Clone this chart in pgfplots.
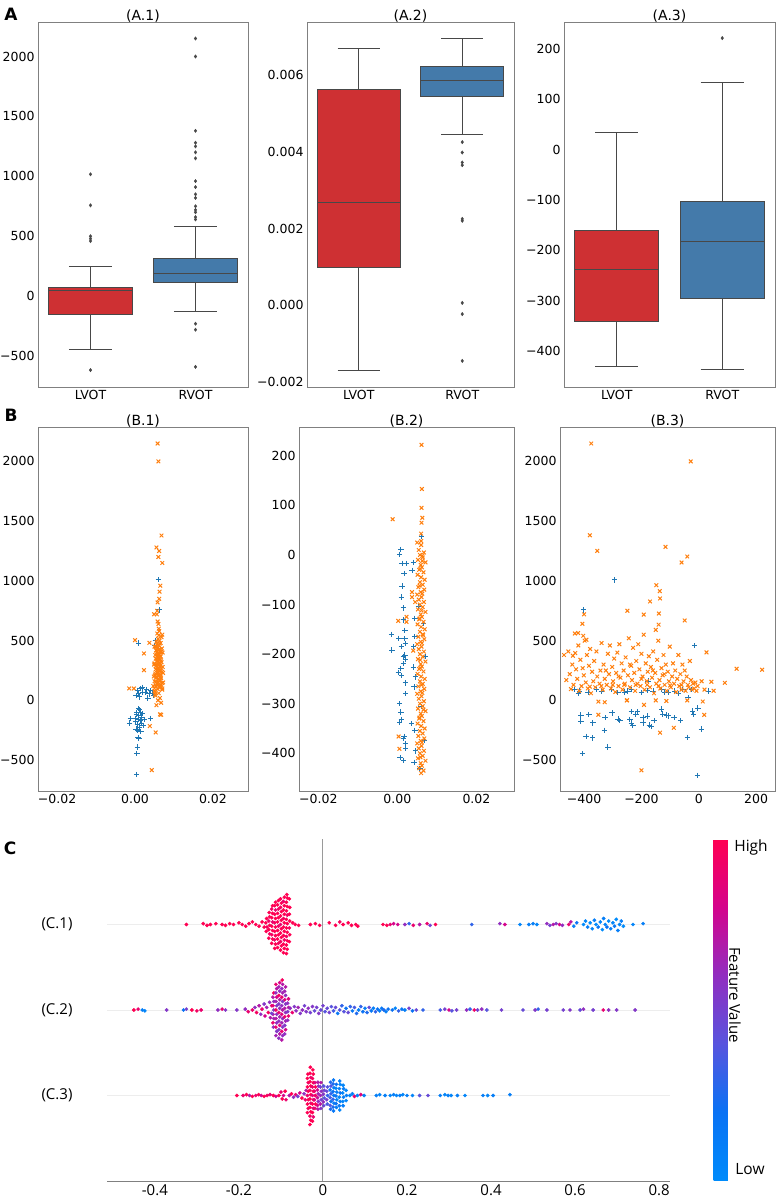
\documentclass[border=0pt]{standalone}
\usepackage{pgfplots}
\pgfplotsset{compat=1.18}
\usepackage{fontspec}
\setmainfont{DejaVu Sans}
\newfontfamily\shapfont{Open Sans}
\definecolor{boxred}{RGB}{206,48,51}
\definecolor{boxblue}{RGB}{68,122,170}
\definecolor{mplblue}{HTML}{1F77B4}
\definecolor{mplorange}{HTML}{FF7F0E}
\definecolor{spine}{RGB}{128,128,128}
\definecolor{boxedge}{RGB}{72,72,72}
\pgfplotsset{
  panel/.style={scale only axis, anchor=south west, scaled ticks=false,
    axis line style={spine, line width=0.9pt},
    major tick length=0pt, tick style={draw=none},
    ticklabel style={font=\fontsize{12.5}{15}\selectfont},
    title style={font=\fontsize{14}{16}\selectfont, at={(0.5,1)}, anchor=south, inner sep=0pt, yshift=-7pt},
    /pgf/number format/assume math mode=true},
  bx/.style={fill=#1, draw=boxedge, line width=1pt},
  wk/.style={boxedge, line width=1pt, unbounded coords=jump},
  ol/.style={only marks, mark=diamond*, mark size=1.7pt, mark options={fill=boxedge, draw=boxedge, line width=0.4pt}},
  bm/.style={only marks, mark=+, mark size=2.7pt, mplblue, line width=1pt},
  om/.style={only marks, mark=x, mark size=2.6pt, mplorange, line width=1pt},
  sw/.style={scatter, only marks, scatter src=explicit, mark=*, mark size=1.65pt,
    scatter/use mapped color={draw=mapped color, fill=mapped color}},
}
\begin{document}
\begin{tikzpicture}
\path[use as bounding box] (0pt,0pt) rectangle (777pt,1198pt);
% ---------------- A.1
\begin{axis}[panel, at={(38pt,811pt)}, width=210pt, height=365pt,
  xmin=-0.5, xmax=1.5, ymin=-758, ymax=2288,
  xtick={0,1}, xticklabels={LVOT,RVOT},
  ytick={-500,0,500,1000,1500,2000}, yticklabels={−500,0,500,1000,1500,2000},
  title={(A.1)}]
\addplot[bx=boxred] coordinates {(-0.4,-150) (0.4,-150) (0.4,75) (-0.4,75)} --cycle;
\addplot[wk] coordinates {(0,75) (0,250) (nan,nan) (-0.205,250) (0.205,250) (nan,nan) (0,-150) (0,-442) (nan,nan) (-0.205,-442) (0.205,-442) (nan,nan) (-0.4,50) (0.4,50)};
\addplot[ol] coordinates {(0,1017) (0,758) (0,500) (0,480) (0,460) (0,-617)};
\addplot[bx=boxblue] coordinates {(0.6,117) (1.4,117) (1.4,317) (0.6,317)} --cycle;
\addplot[wk] coordinates {(1,317) (1,583) (nan,nan) (0.795,583) (1.205,583) (nan,nan) (1,117) (1,-125) (nan,nan) (0.795,-125) (1.205,-125) (nan,nan) (0.6,192) (1.4,192)};
\addplot[ol] coordinates {(1,2150) (1,2000) (1,1380) (1,1280) (1,1250) (1,1200) (1,1150) (1,960) (1,910) (1,850) (1,820) (1,750) (1,720) (1,700) (1,660) (1,640) (1,-230) (1,-280) (1,-590)};
\end{axis}
% ---------------- A.2
\begin{axis}[panel, at={(307pt,811pt)}, width=207pt, height=365pt,
  xmin=-0.5, xmax=1.5, ymin=-0.00213, ymax=0.00738,
  xtick={0,1}, xticklabels={LVOT,RVOT},
  ytick={-0.002,0,0.002,0.004,0.006}, yticklabels={−0.002,0.000,0.002,0.004,0.006},
  title={(A.2)}]
\addplot[bx=boxred] coordinates {(-0.4,0.00099) (0.4,0.00099) (0.4,0.00561) (-0.4,0.00561)} --cycle;
\addplot[wk] coordinates {(0,0.00561) (0,0.00668) (nan,nan) (-0.205,0.00668) (0.205,0.00668) (nan,nan) (0,0.00099) (0,-0.00169) (nan,nan) (-0.205,-0.00169) (0.205,-0.00169) (nan,nan) (-0.4,0.00267) (0.4,0.00267)};
\addplot[bx=boxblue] coordinates {(0.6,0.00545) (1.4,0.00545) (1.4,0.00621) (0.6,0.00621)} --cycle;
\addplot[wk] coordinates {(1,0.00621) (1,0.00694) (nan,nan) (0.795,0.00694) (1.205,0.00694) (nan,nan) (1,0.00545) (1,0.00445) (nan,nan) (0.795,0.00445) (1.205,0.00445) (nan,nan) (0.6,0.00585) (1.4,0.00585)};
\addplot[ol] coordinates {(1,0.00425) (1,0.00398) (1,0.00372) (1,0.00365) (1,0.00225) (1,0.00220) (1,0.00006) (1,-0.00023) (1,-0.00145)};
\end{axis}
% ---------------- A.3
\begin{axis}[panel, at={(564pt,811pt)}, width=211pt, height=365pt,
  xmin=-0.5, xmax=1.5, ymin=-472, ymax=254,
  xtick={0,1}, xticklabels={LVOT,RVOT},
  ytick={-400,-300,-200,-100,0,100,200}, yticklabels={−400,−300,−200,−100,0,100,200},
  title={(A.3)}]
\addplot[bx=boxred] coordinates {(-0.4,-342) (0.4,-342) (0.4,-161) (-0.4,-161)} --cycle;
\addplot[wk] coordinates {(0,-161) (0,34) (nan,nan) (-0.205,34) (0.205,34) (nan,nan) (0,-342) (0,-432) (nan,nan) (-0.205,-432) (0.205,-432) (nan,nan) (-0.4,-238) (0.4,-238)};
\addplot[bx=boxblue] coordinates {(0.6,-296) (1.4,-296) (1.4,-104) (0.6,-104)} --cycle;
\addplot[wk] coordinates {(1,-104) (1,133) (nan,nan) (0.795,133) (1.205,133) (nan,nan) (1,-296) (1,-437) (nan,nan) (0.795,-437) (1.205,-437) (nan,nan) (0.6,-183) (1.4,-183)};
\addplot[ol] coordinates {(1,222)};
\end{axis}
% ---------------- B.1
\begin{axis}[panel, at={(38pt,407pt)}, width=210pt, height=364pt,
  xmin=-0.0249, xmax=0.029, ymin=-758, ymax=2288,
  xtick={-0.02,0,0.02}, xticklabels={−0.02,0.00,0.02},
  ytick={-500,0,500,1000,1500,2000}, yticklabels={−500,0,500,1000,1500,2000},
  title={(B.1)}]
\addplot[bm] coordinates {(0.0060,1010) (0.0062,758) (0.0009,480) (0.0052,500) (0.0050,460)
 (0.0006,85) (0.0009,60) (0.0003,40) (0.0015,100) (0.0020,70) (0.0026,65) (0.0030,90) (0.0036,55) (0.0040,80) (0.0044,60) (0.0012,30) (0.0033,20) (0.0018,110) (0.0048,45)
 (0.0000,-150) (0.0002,-180) (0.0004,-120) (0.0006,-200) (0.0008,-160) (0.0010,-130) (0.0011,-230) (0.0013,-100) (0.0014,-170) (0.0016,-190) (0.0017,-140) (0.0019,-110) (0.0021,-210) (0.0009,-70) (0.0007,-250) (-0.0012,-150) (-0.0014,-190) (0.0003,-240) (0.0024,-160) (0.0012,-80) (0.0005,-100) (0.0015,-260) (0.0040,-150)
 (0.0008,-310) (0.0010,-320) (0.0006,-390) (0.0005,-445) (0.0004,-620)};
\addplot[om] coordinates {(0.0058,2150) (0.0060,2000) (0.0068,1380) (0.0055,1280) (0.0062,1250) (0.0060,1200) (0.0070,1150) (0.0065,960) (0.0063,910) (0.0062,850) (0.0058,820) (0.0057,750) (0.0056,720) (0.0049,721) (0.0058,660) (0.0060,640) (0.0061,600) (0.0062,580) (0.0070,550)
 (0.0064,-117) (0.0067,-120) (0.0038,-215) (0.0053,-268) (0.0043,-583) (-0.0015,100) (-0.0003,100) (0.0000,504) (0.0023,393) (0.0023,253) (0.0037,482)
 (0.0050,80) (0.0058,95) (0.0063,110) (0.0053,120) (0.0067,130) (0.0056,140) (0.0060,150) (0.0050,160) (0.0065,170) (0.0059,180)
 (0.0054,190) (0.0066,200) (0.0051,210) (0.0060,220) (0.0057,230) (0.0070,240) (0.0063,250) (0.0053,260) (0.0059,270) (0.0065,280)
 (0.0055,290) (0.0061,300) (0.0050,310) (0.0068,320) (0.0057,330) (0.0063,340) (0.0053,350) (0.0059,360) (0.0066,370) (0.0052,380)
 (0.0060,390) (0.0056,400) (0.0065,410) (0.0054,420) (0.0063,430) (0.0059,440) (0.0053,450) (0.0061,460) (0.0056,470) (0.0066,480)
 (0.0055,490) (0.0063,500) (0.0059,515) (0.0068,530) (0.0061,545) (0.0057,560) (0.0053,40) (0.0064,20) (0.0059,0) (0.0067,-20)
 (0.0055,-40) (0.0061,60) (0.0052,70) (0.0070,90) (0.0050,100) (0.0066,115) (0.0057,125) (0.0061,135) (0.0069,145) (0.0053,155)
 (0.0063,165) (0.0059,175) (0.0067,185) (0.0055,195) (0.0061,205) (0.0065,215) (0.0052,225) (0.0059,235) (0.0063,245) (0.0057,255)
 (0.0068,265) (0.0061,275) (0.0053,285) (0.0066,295) (0.0057,305) (0.0063,315) (0.0059,325) (0.0067,335) (0.0055,345) (0.0061,355)
 (0.0065,365) (0.0057,375) (0.0063,385) (0.0059,395) (0.0067,405) (0.0055,415) (0.0061,425) (0.0069,435) (0.0057,445) (0.0063,475)
 (0.0071,280) (0.0048,200) (0.0072,150) (0.0049,300) (0.0071,400) (0.0050,450) (0.0070,100) (0.0051,50) (0.0072,230) (0.0047,120)};
\end{axis}
% ---------------- B.2
\begin{axis}[panel, at={(299pt,407pt)}, width=215pt, height=364pt,
  xmin=-0.0249, xmax=0.0295, ymin=-476, ymax=258,
  xtick={-0.02,0,0.02}, xticklabels={−0.02,0.00,0.02},
  ytick={-400,-300,-200,-100,0,100,200}, yticklabels={−400,−300,−200,−100,0,100,200},
  title={(B.2)}]
\addplot[bm] coordinates {(0.0009,11) (0.0006,1) (0.0012,-17) (0.0023,-17) (0.0017,-37) (0.0012,-63) (0.0010,-85) (0.0015,-107) (-0.0015,-160) (-0.0014,-192) (0.0004,-168) (0.0015,-131) (0.0019,-152) (0.0019,-169) (0.0020,-179) (0.0019,-202) (0.0015,-205) (0.0010,-185) (0.0015,-219) (0.0020,-211) (0.0002,-237) (0.0009,-229) (0.0010,-243) (0.0020,-258) (0.0021,-280) (0.0006,-300) (0.0009,-317) (0.0010,-332) (0.0006,-337) (0.0017,-366) (0.0015,-370) (0.0020,-380) (0.0021,-390) (0.0007,-409) (0.0015,-414)
 (0.0040,-15) (0.0037,-31) (0.0044,-128) (0.0044,-165) (0.0041,-185) (0.0040,-226) (0.0046,-246) (0.0042,-266) (0.0036,-340) (0.0044,-354) (0.0046,-395) (0.0042,-418) (0.0057,-431) (0.0061,37) (0.0053,-104) (0.0066,-138) (0.0070,-205) (0.0060,-306) (0.0068,-374)};
\addplot[om] coordinates {(0.0061,222) (0.0062,133) (0.0061,95) (0.0063,75) (0.0061,65) (0.0060,43) (0.0060,28) (-0.0012,72) (0.0002,-133) (0.0003,-366) (0.0005,-391) (0.0023,-125) (0.0023,-135) (0.0037,-75) (0.0037,-85) (0.0040,-193) (0.0045,-95)
 (0.0050,25) (0.0060,20) (0.0054,10) (0.0067,5) (0.0057,0) (0.0064,-5) (0.0052,-10) (0.0071,-15) (0.0059,-20) (0.0062,-25)
 (0.0055,-30) (0.0066,-35) (0.0051,-40) (0.0060,-45) (0.0069,-50) (0.0057,-55) (0.0064,-60) (0.0053,-65) (0.0068,-70) (0.0059,-75)
 (0.0050,-80) (0.0061,-85) (0.0054,-90) (0.0067,-95) (0.0057,-100) (0.0064,-105) (0.0052,-110) (0.0071,-115) (0.0059,-120) (0.0062,-125)
 (0.0055,-130) (0.0066,-135) (0.0051,-140) (0.0060,-145) (0.0069,-150) (0.0057,-155) (0.0064,-160) (0.0053,-165) (0.0068,-170) (0.0059,-175)
 (0.0050,-180) (0.0061,-185) (0.0054,-190) (0.0067,-195) (0.0057,-200) (0.0064,-205) (0.0052,-210) (0.0071,-215) (0.0059,-220) (0.0062,-225)
 (0.0055,-230) (0.0066,-235) (0.0051,-240) (0.0060,-245) (0.0069,-250) (0.0057,-255) (0.0064,-260) (0.0053,-265) (0.0068,-270) (0.0059,-275)
 (0.0050,-280) (0.0061,-285) (0.0054,-290) (0.0067,-295) (0.0057,-300) (0.0064,-305) (0.0052,-310) (0.0071,-315) (0.0059,-320) (0.0062,-325)
 (0.0055,-330) (0.0066,-335) (0.0051,-340) (0.0060,-345) (0.0069,-350) (0.0057,-355) (0.0064,-360) (0.0053,-365) (0.0068,-370) (0.0059,-375)
 (0.0050,-380) (0.0061,-385) (0.0054,-390) (0.0067,-395) (0.0057,-400) (0.0064,-405) (0.0052,-410) (0.0071,-415) (0.0059,-420) (0.0062,-425)
 (0.0055,-430) (0.0066,-435) (0.0060,-440) (0.0063,-12) (0.0056,-62) (0.0061,-112) (0.0065,-162) (0.0058,-212) (0.0061,-262) (0.0066,-312)
 (0.0058,-28) (0.0063,-78) (0.0056,-128) (0.0062,-178) (0.0058,-228) (0.0063,-278) (0.0056,-328) (0.0062,-378) (0.0058,-408) (0.0063,-2)};
\end{axis}
% ---------------- B.3
\begin{axis}[panel, at={(560pt,407pt)}, width=215pt, height=364pt,
  xmin=-484, xmax=266, ymin=-758, ymax=2288,
  xtick={-400,-200,0,200}, xticklabels={−400,−200,0,200},
  ytick={-500,0,500,1000,1500,2000}, yticklabels={−500,0,500,1000,1500,2000},
  title={(B.3)}]
\addplot[bm] coordinates {(-293,1009) (-402,758) (-14,457) (-177,162)
 (-433,92) (-415,78) (-386,64) (-357,92) (-340,78) (-305,92) (-282,64) (-247,78) (-235,92) (-200,64) (-159,78) (-130,92) (-107,64) (-84,78) (-55,92) (-37,22) (-26,92) (33,78) (-420,60) (-260,70) (-180,85) (-120,70) (-70,60)
 (-411,-123) (-411,-173) (-383,-118) (-369,-188) (-393,-300) (-370,-314) (-405,-446) (-329,-250) (-327,-145) (-317,-390) (-302,-105) (-281,-157) (-275,-170) (-235,-95) (-240,-160) (-235,-190) (-230,-210) (-219,-114) (-214,-95) (-194,-142) (-194,-188) (-179,-131) (-172,-207) (-166,-218) (-156,-170) (-129,-72) (-125,-115) (-113,-123) (-107,-129) (-86,-143) (-63,-170) (-40,-309) (-21,-89) (-18,-120) (-3,-64) (9,-240) (-5,-626)};
\addplot[om] coordinates {(-375,2150) (-28,2000) (-380,1382) (-354,1251) (-116,1285) (-60,1154) (-40,1204) (-148,964) (-136,914) (-135,853) (-170,828) (-249,750) (-139,727) (-192,718) (-140,634) (-150,590) (-49,669) (-406,641) (-400,720) (-421,564) (-403,541) (-392,508) (-439,374) (-431,396) (27,402) (132,265) (221,257) (44,156) (52,81) (91,147) (19,-121) (14,-9) (-40,0) (-113,-5) (-150,0) (-250,2) (-328,-15) (-350,-120) (-200,-585) (-135,-270) (-87,-229) (-191,-37)
 (-470,380) (-462,170) (-455,410) (-450,220) (-446,95) (-441,300) (-437,130) (-432,560) (-428,260) (-424,180)
 (-420,460) (-417,80) (-413,340) (-409,120) (-405,270) (-401,210) (-398,500) (-394,150) (-390,380) (-387,100)
 (-383,290) (-379,430) (-376,60) (-372,240) (-368,160) (-365,330) (-361,110) (-357,410) (-354,200) (-350,-10)
 (-346,140) (-343,250) (-339,480) (-335,90) (-332,300) (-328,180) (-324,250) (-321,130) (-317,390) (-313,220)
 (-310,460) (-306,100) (-302,280) (-299,160) (-295,350) (-291,70) (-288,230) (-284,400) (-280,120) (-277,470)
 (-273,190) (-269,310) (-266,90) (-262,250) (-258,140) (-255,360) (-251,0) (-247,210) (-244,520) (-240,110)
 (-236,290) (-233,170) (-229,440) (-225,230) (-222,80) (-218,330) (-214,140) (-211,470) (-207,260) (-203,120)
 (-200,390) (-196,200) (-192,550) (-189,90) (-185,310) (-181,160) (-178,240) (-174,370) (-170,110) (-167,280)
 (-163,190) (-159,410) (-156,60) (-152,230) (-148,140) (-145,340) (-141,500) (-137,170) (-134,100) (-130,270)
 (-126,210) (-123,380) (-119,130) (-115,300) (-112,80) (-108,240) (-104,160) (-101,450) (-97,110) (-93,200)
 (-90,310) (-86,140) (-82,250) (-79,70) (-75,180) (-71,380) (-68,120) (-64,220) (-60,90) (-57,300)
 (-53,160) (-49,250) (-46,80) (-42,200) (-38,130) (-35,110) (-31,330) (-27,170) (-24,90) (-20,140)
 (-16,100) (-12,150) (-8,80) (-4,120) (10,160) (20,90) (-300,130) (-260,130) (-220,130) (-180,130)
 (-140,120) (-100,125) (-60,130) (-340,120) (-380,115) (-240,300) (-160,250) (-120,220) (-200,180) (-280,200)};
\end{axis}
% ---------------- C
\begin{axis}[scale only axis, anchor=south west, at={(107pt,17pt)}, width=563pt, height=342pt,
  xmin=-0.514, xmax=0.826, ymin=0, ymax=4,
  axis x line*=bottom, axis y line*=left,
  x axis line style={spine, line width=0.9pt}, y axis line style={draw=none},
  major tick length=0pt, tick style={draw=none},
  xtick={-0.4,-0.2,0,0.2,0.4,0.6,0.8}, xticklabels={-0.4,-0.2,0,0.2,0.4,0.6,0.8},
  ytick={1,2,3}, yticklabels={(C.3),(C.2),(C.1)},
  xticklabel style={font=\shapfont\fontsize{15}{18}\selectfont},
  yticklabel style={font=\shapfont\fontsize{15}{18}\selectfont, xshift=-31pt},
  colormap={shap}{rgb255=(0,139,251) rgb255=(10,114,244) rgb255=(88,84,222) rgb255=(145,45,192) rgb255=(212,4,140) rgb255=(255,0,82)},
  point meta min=0, point meta max=1,
  colorbar, colorbar style={at={(parent axis.north east)}, anchor=north west, xshift=35pt,
    scale only axis, width=15pt, height=341pt, ytick=\empty, axis line style={draw=none}, major tick length=0pt},
  clip=false]
\addplot[black!7, line width=0.8pt] coordinates {(-0.514,3) (0.826,3)};
\addplot[black!7, line width=0.8pt] coordinates {(-0.514,2) (0.826,2)};
\addplot[black!7, line width=0.8pt] coordinates {(-0.514,1) (0.826,1)};
\addplot[spine!80, line width=1pt] coordinates {(0,0) (0,4)};
% C.1
\addplot[sw] table[row sep=\\, x=x, y expr=3+\thisrow{o}, meta=c] {x o c\\
-0.135 -0.08 1\\ -0.133 -0.03 0.95\\ -0.136 0.02 1\\ -0.134 0.07 1\\
-0.129 -0.16 1\\ -0.127 -0.11 0.95\\ -0.129 -0.06 1\\ -0.127 -0.01 1\\ -0.129 0.04 0.92\\ -0.127 0.09 1\\ -0.128 0.14 1\\
-0.122 -0.22 1\\ -0.120 -0.17 1\\ -0.122 -0.12 0.95\\ -0.120 -0.07 1\\ -0.122 -0.02 1\\ -0.120 0.03 0.9\\ -0.122 0.08 1\\ -0.120 0.13 1\\ -0.122 0.18 0.95\\ -0.120 0.22 1\\
-0.115 -0.28 1\\ -0.113 -0.23 1\\ -0.115 -0.18 0.93\\ -0.113 -0.13 1\\ -0.115 -0.08 1\\ -0.113 -0.03 1\\ -0.115 0.02 0.95\\ -0.113 0.07 1\\ -0.115 0.12 1\\ -0.113 0.17 0.9\\ -0.115 0.22 1\\ -0.113 0.26 1\\
-0.108 -0.27 1\\ -0.106 -0.22 0.95\\ -0.108 -0.17 1\\ -0.106 -0.12 1\\ -0.108 -0.07 1\\ -0.106 -0.02 0.92\\ -0.108 0.03 1\\ -0.106 0.08 1\\ -0.108 0.13 1\\ -0.106 0.18 0.95\\ -0.108 0.23 1\\ -0.106 0.28 1\\
-0.101 -0.30 1\\ -0.099 -0.25 1\\ -0.101 -0.20 0.95\\ -0.099 -0.15 1\\ -0.101 -0.10 1\\ -0.099 -0.05 1\\ -0.101 0.00 0.9\\ -0.099 0.05 1\\ -0.101 0.10 1\\ -0.099 0.15 1\\ -0.101 0.20 0.95\\ -0.099 0.25 1\\ -0.101 0.30 1\\
-0.094 -0.33 1\\ -0.092 -0.28 1\\ -0.094 -0.23 1\\ -0.092 -0.18 0.93\\ -0.094 -0.13 1\\ -0.092 -0.08 1\\ -0.094 -0.03 1\\ -0.092 0.02 1\\ -0.094 0.07 0.95\\ -0.092 0.12 1\\ -0.094 0.17 1\\ -0.092 0.22 1\\ -0.094 0.27 0.9\\ -0.092 0.32 1\\
-0.087 -0.34 1\\ -0.085 -0.29 1\\ -0.087 -0.24 1\\ -0.085 -0.19 1\\ -0.087 -0.14 0.95\\ -0.085 -0.09 1\\ -0.087 -0.04 1\\ -0.085 0.01 1\\ -0.087 0.06 1\\ -0.085 0.11 0.92\\ -0.087 0.16 1\\ -0.085 0.21 1\\ -0.087 0.26 1\\ -0.085 0.31 1\\ -0.086 0.35 1\\
-0.080 -0.20 1\\ -0.079 -0.12 1\\ -0.080 -0.04 0.95\\ -0.079 0.04 1\\ -0.080 0.12 1\\ -0.079 0.20 1\\ -0.080 0.30 1\\
-0.325 0 1\\ -0.285 0.01 1\\ -0.276 -0.01 1\\ -0.268 0 1\\ -0.255 0.01 1\\ -0.240 0 1\\ -0.232 -0.01 1\\ -0.222 0.01 1\\ -0.213 0 1\\ -0.200 0.02 1\\ -0.192 0 1\\ -0.184 -0.02 1\\ -0.176 0.01 1\\ -0.168 0.03 1\\ -0.160 0 1\\ -0.152 -0.02 1\\ -0.145 0.03 1\\ -0.140 -0.03 1\\
-0.072 0.02 1\\ -0.066 0 1\\ -0.058 -0.01 1\\ -0.030 0 1\\ -0.018 0.01 1\\ -0.008 -0.01 1\\ 0.015 0.02 1\\ 0.030 -0.01 1\\ 0.040 0.03 0.95\\ 0.048 0 1\\ 0.060 0.02 1\\ 0.068 -0.01 1\\ 0.078 0 1\\ 0.083 -0.02 1\\
0.143 0 1\\ 0.152 -0.01 1\\ 0.160 0 0.9\\ 0.168 0.01 0.8\\ 0.178 0 0.8\\ 0.195 0 0.6\\ 0.205 0.01 0.3\\ 0.215 -0.01 0.9\\ 0.230 0 0.7\\ 0.248 0.01 0.9\\ 0.255 -0.01 0.5\\ 0.268 0 1\\
0.354 0 0.3\\ 0.421 0.01 0.6\\ 0.433 0 0.8\\ 0.469 0 0.05\\ 0.490 0 0.1\\ 0.500 0.01 0.1\\ 0.509 0 0.05\\ 0.533 0.01 0.6\\ 0.540 -0.01 0.5\\ 0.548 0 0.7\\ 0.555 0.01 0.55\\ 0.563 0 0.8\\ 0.570 -0.01 0.6\\ 0.585 0 0.9\\ 0.590 0.03 0.7\\ 0.597 -0.02 0.1\\ 0.604 0.02 0.2\\
0.620 0 0\\ 0.625 0.04 0.05\\ 0.630 -0.03 0.1\\ 0.636 0.02 0\\ 0.641 -0.05 0.05\\ 0.646 0.05 0.1\\ 0.650 0 0\\ 0.655 -0.03 0.15\\ 0.660 0.03 0.05\\ 0.665 -0.06 0\\ 0.668 0.07 0.1\\ 0.672 0 0.05\\ 0.676 -0.03 0.2\\ 0.680 0.04 0\\ 0.685 -0.05 0.1\\ 0.690 0.02 0.05\\ 0.694 -0.02 0.15\\ 0.698 0.06 0\\ 0.702 -0.07 0.1\\ 0.706 0 0.05\\ 0.710 0.04 0.1\\ 0.715 -0.02 0\\ 0.738 0 0.05\\ 0.762 0.01 0.1\\
};
% C.2
\addplot[sw] table[row sep=\\, x=x, y expr=2+\thisrow{o}, meta=c] {x o c\\
-0.118 -0.20 0.6\\ -0.119 -0.15 0.9\\ -0.117 -0.10 0.65\\ -0.119 -0.05 0.7\\ -0.117 0.00 0.55\\ -0.119 0.05 0.85\\ -0.117 0.10 0.6\\ -0.119 0.15 0.7\\ -0.117 0.20 0.95\\
-0.112 -0.30 0.65\\ -0.110 -0.25 0.55\\ -0.112 -0.20 0.9\\ -0.110 -0.15 0.6\\ -0.112 -0.10 0.7\\ -0.110 -0.05 0.6\\ -0.112 0.00 0.95\\ -0.110 0.05 0.55\\ -0.112 0.10 0.65\\ -0.110 0.15 0.8\\ -0.112 0.20 0.6\\ -0.110 0.25 0.7\\ -0.112 0.30 0.9\\
-0.105 -0.33 0.6\\ -0.103 -0.28 0.7\\ -0.105 -0.23 0.55\\ -0.103 -0.18 0.85\\ -0.105 -0.13 0.6\\ -0.103 -0.08 0.65\\ -0.105 -0.03 0.9\\ -0.103 0.02 0.6\\ -0.105 0.07 0.55\\ -0.103 0.12 0.7\\ -0.105 0.17 0.95\\ -0.103 0.22 0.6\\ -0.105 0.27 0.65\\ -0.103 0.32 0.8\\
-0.098 -0.35 0.7\\ -0.096 -0.30 0.6\\ -0.098 -0.25 0.9\\ -0.096 -0.20 0.55\\ -0.098 -0.15 0.65\\ -0.096 -0.10 0.6\\ -0.098 -0.05 0.85\\ -0.096 0.00 0.7\\ -0.098 0.05 0.6\\ -0.096 0.10 0.55\\ -0.098 0.15 0.9\\ -0.096 0.20 0.65\\ -0.098 0.25 0.6\\ -0.096 0.30 0.7\\ -0.097 0.35 0.95\\
-0.091 -0.28 0.6\\ -0.089 -0.23 0.8\\ -0.091 -0.18 0.55\\ -0.089 -0.13 0.65\\ -0.091 -0.08 0.9\\ -0.089 -0.03 0.6\\ -0.091 0.02 0.7\\ -0.089 0.07 0.55\\ -0.091 0.12 0.85\\ -0.089 0.17 0.6\\ -0.091 0.22 0.65\\ -0.089 0.27 0.7\\
-0.084 -0.12 0.6\\ -0.082 -0.07 0.9\\ -0.084 -0.02 0.55\\ -0.082 0.03 0.7\\ -0.084 0.08 0.6\\ -0.082 0.13 0.85\\
-0.168 0 0.9\\ -0.162 0.03 0.6\\ -0.158 -0.03 0.95\\ -0.152 0.05 0.7\\ -0.148 -0.05 0.6\\ -0.145 0.01 0.9\\ -0.140 0.07 0.55\\ -0.138 -0.07 0.8\\ -0.134 0.03 0.65\\ -0.130 -0.03 0.95\\ -0.127 0.09 0.6\\ -0.125 -0.09 0.7\\ -0.122 0.05 0.9\\ -0.122 -0.04 0.5\\
-0.450 0 1\\ -0.440 0.01 0.9\\ -0.430 0 0.1\\ -0.424 -0.01 0.05\\ -0.372 0 0.55\\ -0.332 0 0.2\\ -0.325 0.01 0.5\\ -0.312 0 1\\ -0.300 -0.01 0.95\\ -0.290 0 0.9\\ -0.250 0 0.6\\ -0.240 0.01 0.9\\ -0.232 0 0.55\\ -0.205 0 0.55\\ -0.185 0.01 0.6\\ -0.178 -0.02 0.9\\
-0.078 0.02 0.6\\ -0.073 -0.03 0.9\\ -0.068 0.04 0.55\\ -0.064 -0.01 0.6\\ -0.059 0.03 0.65\\ -0.054 -0.04 0.55\\ -0.049 0.00 0.6\\ -0.044 0.05 0.5\\ -0.040 -0.02 0.55\\ -0.035 0.02 0.6\\ -0.030 -0.03 0.5\\ -0.025 0.04 0.55\\ -0.020 -0.01 0.45\\ -0.015 0.03 0.5\\ -0.010 -0.04 0.55\\ -0.005 0.00 0.45\\ 0.000 0.05 0.5\\ 0.005 -0.02 0.4\\ 0.010 0.02 0.45\\ 0.015 -0.03 0.5\\ 0.020 0.04 0.4\\ 0.025 -0.01 0.35\\ 0.030 0.03 0.45\\ 0.035 -0.04 0.15\\ 0.040 0.00 0.4\\ 0.045 0.05 0.3\\ 0.050 -0.02 0.4\\ 0.055 0.02 0.2\\ 0.060 -0.03 0.45\\ 0.065 0.04 0.3\\ 0.070 -0.01 0.15\\ 0.075 0.03 0.35\\ 0.080 -0.04 0.25\\ 0.085 0.00 0.1\\ 0.090 0.04 0.3\\ 0.095 -0.02 0.2\\ 0.100 0.02 0.1\\ 0.105 -0.03 0.25\\ 0.110 0.03 0.45\\ 0.115 -0.01 0.15\\ 0.120 0.02 0.1\\ 0.125 -0.02 0.3\\ 0.130 0.01 0.2\\ 0.135 -0.01 0.1\\ 0.140 0.02 0.15\\ 0.145 0.00 0.25\\ 0.150 -0.02 0.1\\ 0.155 0.01 0.2\\
0.165 0 0.2\\ 0.172 0.02 0.05\\ 0.180 -0.01 0.3\\ 0.188 0.01 0.15\\ 0.195 0 0.1\\ 0.205 0.02 0.5\\ 0.213 -0.01 0.2\\ 0.222 0 0.45\\ 0.238 0 0.3\\ 0.279 0 0.35\\ 0.290 0.01 0.5\\ 0.300 0 0.8\\ 0.307 -0.01 0.4\\ 0.318 0 0.5\\ 0.342 0 0.6\\ 0.350 0.01 0.3\\ 0.360 0 0.95\\ 0.368 0 0.5\\ 0.378 0.01 0.6\\ 0.390 0 0.4\\ 0.425 0 0.5\\ 0.476 0 0.45\\ 0.505 0 0.55\\ 0.512 0.01 0.3\\ 0.533 0 0.5\\ 0.572 0 0.5\\ 0.588 0 0.55\\ 0.612 0 0.45\\ 0.620 0.01 0.6\\ 0.643 0 0.5\\ 0.667 0 0.9\\ 0.680 0 0.6\\ 0.699 0 0.55\\ 0.743 0 0.55\\
};
% C.3
\addplot[sw] table[row sep=\\, x=x, y expr=1+\thisrow{o}, meta=c] {x o c\\
-0.205 0 1\\ -0.190 0 0.9\\ -0.182 0.01 1\\ -0.175 0 0.7\\ -0.168 -0.01 1\\ -0.160 0 0.9\\ -0.153 0.01 1\\ -0.147 0 0.8\\ -0.140 -0.01 1\\ -0.133 0 0.95\\ -0.126 0.01 0.9\\ -0.118 0 1\\ -0.112 -0.01 0.8\\ -0.105 0 1\\
-0.100 0.04 0.9\\ -0.097 -0.04 1\\ -0.094 0 0.8\\ -0.090 0.05 1\\ -0.088 -0.05 0.9\\
-0.080 0 0.7\\ -0.075 0.02 1\\ -0.070 -0.02 0.6\\ -0.065 0.01 0.9\\ -0.060 -0.01 0.5\\ -0.055 0.03 0.8\\ -0.050 -0.03 1\\ -0.045 0.02 0.6\\ -0.042 -0.05 0.9\\ -0.040 0.06 0.7\\
-0.012 -0.16 0.7\\ -0.013 -0.115 0.8\\ -0.011 -0.07 0.6\\ -0.013 -0.025 0.75\\ -0.011 0.02 0.65\\ -0.013 0.065 0.8\\ -0.011 0.11 0.6\\ -0.012 0.155 0.7\\
-0.005 -0.15 0.55\\ -0.006 -0.10 0.7\\ -0.004 -0.05 0.5\\ -0.006 0.00 0.65\\ -0.004 0.05 0.6\\ -0.006 0.10 0.5\\ -0.005 0.15 0.7\\
0.002 -0.12 0.45\\ 0.001 -0.075 0.6\\ 0.003 -0.03 0.4\\ 0.001 0.015 0.55\\ 0.003 0.06 0.5\\ 0.002 0.11 0.4\\
0.010 -0.10 0.35\\ 0.009 -0.05 0.5\\ 0.011 0.00 0.3\\ 0.009 0.05 0.45\\ 0.011 0.10 0.4\\
0.018 -0.16 0.25\\ 0.017 -0.115 0.4\\ 0.019 -0.07 0.2\\ 0.017 -0.025 0.35\\ 0.019 0.02 0.3\\ 0.017 0.065 0.2\\ 0.019 0.11 0.4\\ 0.018 0.155 0.25\\
0.025 -0.18 0.15\\ 0.024 -0.135 0.25\\ 0.026 -0.09 0.1\\ 0.024 -0.045 0.3\\ 0.026 0.00 0.15\\ 0.024 0.045 0.2\\ 0.026 0.09 0.1\\ 0.024 0.135 0.25\\ 0.025 0.18 0.15\\
0.032 -0.14 0.1\\ 0.031 -0.095 0.2\\ 0.033 -0.05 0.05\\ 0.031 -0.005 0.15\\ 0.033 0.04 0.1\\ 0.031 0.085 0.05\\ 0.032 0.13 0.2\\
0.040 -0.17 0.05\\ 0.039 -0.12 0.15\\ 0.041 -0.07 0.1\\ 0.039 -0.02 0.05\\ 0.041 0.03 0.2\\ 0.039 0.08 0.1\\ 0.041 0.13 0.05\\ 0.040 0.17 0.1\\
0.048 -0.12 0.1\\ 0.047 -0.07 0.05\\ 0.049 -0.02 0.1\\ 0.047 0.03 0.05\\ 0.049 0.08 0.1\\ 0.048 0.12 0.05\\
0.055 -0.06 0.05\\ 0.056 0.00 0.1\\ 0.055 0.06 0.05\\
-0.037 -0.20 1\\ -0.035 -0.15 0.95\\ -0.037 -0.10 1\\ -0.035 -0.05 1\\ -0.037 0.00 0.9\\ -0.035 0.05 1\\ -0.037 0.10 1\\ -0.035 0.15 0.95\\ -0.037 0.20 1\\ -0.036 0.25 1\\
-0.031 -0.34 1\\ -0.029 -0.29 1\\ -0.031 -0.24 0.95\\ -0.029 -0.19 1\\ -0.031 -0.14 1\\ -0.029 -0.09 0.9\\ -0.031 -0.04 1\\ -0.029 0.01 1\\ -0.031 0.06 0.95\\ -0.029 0.11 1\\ -0.031 0.16 1\\ -0.029 0.21 0.9\\ -0.031 0.26 1\\ -0.030 0.33 1\\
-0.025 -0.30 1\\ -0.023 -0.25 0.9\\ -0.025 -0.20 1\\ -0.023 -0.15 0.85\\ -0.025 -0.10 1\\ -0.023 -0.05 0.95\\ -0.025 0.00 0.85\\ -0.023 0.05 1\\ -0.025 0.10 0.9\\ -0.023 0.15 1\\ -0.025 0.20 0.95\\ -0.023 0.25 1\\ -0.024 0.30 1\\
-0.019 -0.15 0.9\\ -0.018 -0.10 1\\ -0.020 -0.05 0.85\\ -0.018 0.00 0.95\\ -0.020 0.05 0.9\\ -0.018 0.10 1\\ -0.019 0.15 0.85\\
0.064 0 0.05\\ 0.070 0.02 0.1\\ 0.075 -0.01 0.9\\ 0.082 0 0.05\\ 0.090 0.01 0.85\\ 0.098 0 0.1\\ 0.127 0 0.1\\ 0.135 0.01 0.05\\ 0.148 0 0.1\\ 0.160 0 0.05\\ 0.168 0.01 0.1\\ 0.175 0 0.05\\ 0.183 0 0.1\\ 0.190 0.01 0.05\\ 0.200 0 0.1\\ 0.213 0 0.05\\ 0.230 0 0.4\\ 0.250 0 0.45\\ 0.279 0 0.1\\ 0.290 0.01 0.05\\ 0.298 0 0.1\\ 0.305 0 0.05\\ 0.320 0 0.1\\ 0.338 0 0.05\\ 0.381 0 0.1\\ 0.392 0 0.05\\ 0.405 0 0.1\\ 0.445 0.01 0.1\\
};
\end{axis}
% labels
\node[font=\bfseries\fontsize{17}{20}\selectfont] at (11pt,1184pt) {A};
\node[font=\bfseries\fontsize{17}{20}\selectfont] at (11pt,783pt) {B};
\node[font=\bfseries\fontsize{17}{20}\selectfont] at (10pt,350pt) {C};
\node[font=\shapfont\fontsize{15.5}{18}\selectfont] at (751pt,351pt) {High};
\node[font=\shapfont\fontsize{15.5}{18}\selectfont] at (750pt,29pt) {Low};
\node[font=\shapfont\fontsize{15}{18}\selectfont, rotate=-90] at (735pt,203pt) {Feature Value};
\end{tikzpicture}
\end{document}
